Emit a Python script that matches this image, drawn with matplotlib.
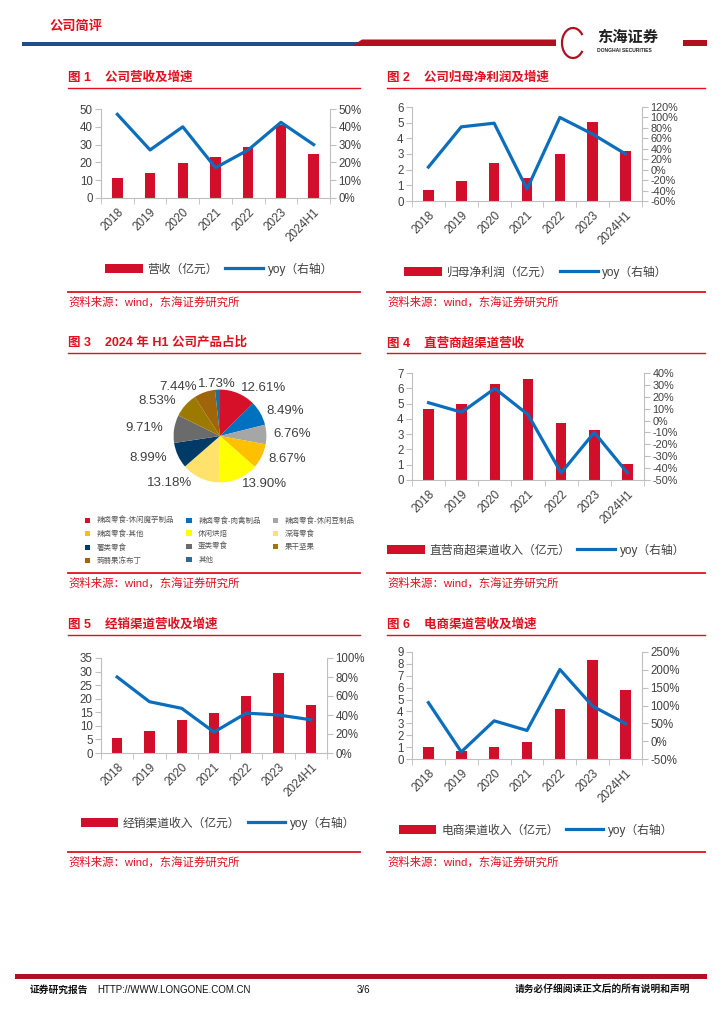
import numpy as np
import matplotlib
matplotlib.use("Agg")
import matplotlib.pyplot as plt
from matplotlib.patches import Polygon, Rectangle, Arc
from matplotlib.ticker import FuncFormatter, MultipleLocator

plt.rcParams['font.family'] = ['Liberation Sans', 'Noto Sans CJK SC', 'DejaVu Sans']
plt.rcParams['axes.unicode_minus'] = False

# ---------------- data ----------------
years = ["2018", "2019", "2020", "2021", "2022", "2023", "2024H1"]

revenue = [11.1, 14.0, 19.6, 22.8, 28.9, 41.2, 24.6]
revenue_yoy = [47, 27, 40, 17, 27, 42.5, 30]

net_profit = [0.7, 1.3, 2.4, 1.5, 3.0, 5.06, 3.16]
net_profit_yoy = [5, 82, 89, -37, 100, 68, 30]

kasupermarket = [4.65, 4.95, 6.3, 6.6, 3.7, 3.3, 1.05]
kasupermarket_yoy = [15, 7, 27, 5, -44, -10, -44]

dealer = [5.4, 8.2, 12.0, 14.7, 21.0, 29.4, 17.6]
dealer_yoy = [80, 54, 47, 22, 42, 40, 35]

ecommerce = [1.0, 0.7, 1.05, 1.4, 4.2, 8.3, 5.8]
ecommerce_yoy = [108, -30, 57, 30, 201, 98, 49]

products = ["辣卤零食-休闲魔芋制品", "辣卤零食-肉禽制品", "辣卤零食-休闲豆制品",
            "辣卤零食-其他", "休闲烘焙", "深海零食", "薯类零食", "蛋类零食",
            "果干坚果", "蒟蒻果冻布丁", "其他"]
product_share = [12.61, 8.49, 6.76, 8.67, 13.90, 13.18, 8.99, 9.71, 8.53, 7.44, 1.73]
product_colors = ["#D7102A", "#0070C0", "#A6A6A6", "#FFC000", "#FFFF00", "#FFE26B",
                  "#003B68", "#6B6B6B", "#9C7A00", "#A0650A", "#1F6E9E"]

RED = "#D20F2A"
TITLE_RED = "#E0101F"
BLUE = "#0A6EBD"
TXT = "#404040"
SPINE = "#BFBFBF"

W, H = 724, 1024
fig = plt.figure(figsize=(W / 100, H / 100), dpi=100)


def px(l, t, r, b):
    return [l / W, 1 - b / H, (r - l) / W, (b - t) / H]


# background layer in pixel coordinates
bg = fig.add_axes([0, 0, 1, 1], zorder=-5)
bg.set_xlim(0, W)
bg.set_ylim(H, 0)
bg.axis("off")

# ---- header ----
bg.text(50, 27, "公司简评", color=TITLE_RED, fontsize=9.5, fontweight="bold", va="center")
bg.add_patch(Rectangle((22, 41.5), 336, 4, color="#1F4E8C", lw=0))
bg.add_patch(Polygon([(352, 46), (362, 39.5), (556, 39.5), (556, 46)], color="#B01020", lw=0))
bg.add_patch(Rectangle((683, 39.5), 24, 6.5, color="#B01020", lw=0))
bg.add_patch(Arc((573, 43), 22, 30, theta1=40, theta2=320, color="#B01020", lw=1.6))
bg.text(597, 38, "东海证券", fontsize=11, fontweight="bold", color="#222222", va="center")
bg.text(597, 51, "DONGHAI SECURITIES", fontsize=3.6, fontweight="bold", color="#222222", va="center")

# ---- footer ----
bg.add_patch(Rectangle((15, 974), 692, 4.5, color="#B01020", lw=0))
bg.text(30, 990, "证券研究报告", fontsize=7, fontweight="bold", color="#111111", va="center")
bg.text(97, 990, "HTTP://WWW.LONGONE.COM.CN", fontsize=7, color="#111111", va="center")
bg.text(357, 990, "3/6", fontsize=7, color="#111111", va="center")
bg.text(690, 990, "请务必仔细阅读正文后的所有说明和声明", fontsize=7, fontweight="bold",
        color="#111111", va="center", ha="right")


def panel_frame(x0, x1, title_y, src_y, title):
    bg.text(x0, title_y, title, color=TITLE_RED, fontsize=9, fontweight="bold", va="center")
    bg.plot([x0, x1], [title_y + 10, title_y + 10], color=TITLE_RED, lw=1)
    bg.plot([x0, x1], [src_y, src_y], color=TITLE_RED, lw=1.3)
    bg.text(x0, src_y + 10, "资料来源：wind，东海证券研究所", color=TITLE_RED, fontsize=8.2, va="center")


def combo(box, bars, yoy, ymax, ystep, y2min, y2max, y2step, bar_label, legend_xy):
    ax = fig.add_axes(px(*box))
    x = np.arange(len(years))
    b = ax.bar(x, bars, width=0.32, color=RED, zorder=2, label=bar_label)
    ax.set_xlim(-0.5, len(years) - 0.5)
    ax.set_ylim(0, ymax)
    ax.yaxis.set_major_locator(MultipleLocator(ystep))
    ax.set_xticks(x)
    ax.set_xticklabels(years, rotation=45, ha="right", rotation_mode="anchor")
    ax.set_xticks(np.arange(-0.5, len(years)), minor=True)
    ax.tick_params(axis="x", which="major", length=0, pad=6, labelsize=8.5, labelcolor=TXT)
    ax.tick_params(axis="x", which="minor", length=4, color=SPINE, direction="out")
    ax.tick_params(axis="y", length=4, color=SPINE, labelsize=8.3, labelcolor=TXT, pad=2)
    ax.spines["top"].set_visible(False)
    ax.spines["right"].set_visible(False)
    for s in ("left", "bottom"):
        ax.spines[s].set_color(SPINE)

    ax2 = ax.twinx()
    ln, = ax2.plot(x, yoy, color=BLUE, lw=2.3, zorder=3, label="yoy（右轴）")
    ax2.set_ylim(y2min, y2max)
    ax2.yaxis.set_major_locator(MultipleLocator(y2step))
    ax2.yaxis.set_major_formatter(FuncFormatter(lambda v, p: f"{v:.0f}%"))
    n_ticks = (y2max - y2min) / y2step + 1
    ax2.tick_params(axis="y", length=4, color=SPINE, labelsize=8.3 if n_ticks < 9 else 7.8,
                    labelcolor=TXT, pad=2)
    ax2.spines["top"].set_visible(False)
    ax2.spines["left"].set_visible(False)
    ax2.spines["bottom"].set_visible(False)
    ax2.spines["right"].set_color(SPINE)

    fig.legend([b, ln], [bar_label, "yoy（右轴）"], loc="center",
               bbox_to_anchor=(legend_xy[0] / W, 1 - legend_xy[1] / H),
               ncol=2, frameon=False, fontsize=8.5, labelcolor=TXT,
               handlelength=3.2, handleheight=0.9, handletextpad=0.4, columnspacing=0.6)
    return ax, ax2


# ---- figure 1 ----
panel_frame(68, 360, 78, 292, "图 1    公司营收及增速")
combo((101, 109, 330, 198), revenue, revenue_yoy, 50, 10, 0, 50, 10,
      "营收（亿元）", (219, 269))

# ---- figure 2 ----
panel_frame(387, 705, 78, 292, "图 2    公司归母净利润及增速")
combo((412, 107, 642, 201), net_profit, net_profit_yoy, 6, 1, -60, 120, 20,
      "归母净利润（亿元）", (536, 272))

# ---- figure 3 (pie) ----
panel_frame(68, 360, 343, 573, "图 3    2024 年 H1 公司产品占比")
axp = fig.add_axes(px(162, 378, 278, 494))
wedges, _ = axp.pie(product_share, colors=product_colors, startangle=90,
                    counterclock=False, wedgeprops=dict(linewidth=0))
axp.set_aspect("equal")
for w, share in zip(wedges, product_share):
    ang = np.deg2rad((w.theta1 + w.theta2) / 2)
    cx, cy = np.cos(ang), np.sin(ang)
    if abs(cx) < 0.1:
        ha, dx = "center", 0
    elif cx > 0:
        ha, dx = "left", 1
    else:
        ha, dx = "right", -4
    axp.annotate(f"{share:.2f}%", (1.12 * cx, 1.12 * cy), xytext=(dx, 0),
                 textcoords="offset points", ha=ha, va="center",
                 fontsize=9.5, color=TXT)
order = [0, 3, 6, 9, 1, 4, 7, 10, 2, 5, 8]
fig.legend([wedges[i] for i in order], [products[i] for i in order], loc="upper left",
           bbox_to_anchor=(78 / W, 1 - 510 / H), ncol=3, frameon=False,
           fontsize=5.4, labelcolor="#555555", handlelength=0.7, handleheight=0.7,
           handletextpad=0.9, columnspacing=1.6, labelspacing=0.75)

# ---- figure 4 ----
panel_frame(387, 705, 343, 573, "图 4    直营商超渠道营收")
combo((412, 373, 644, 480), kasupermarket, kasupermarket_yoy, 7, 1, -50, 40, 10,
      "直营商超渠道收入（亿元）", (536, 550))

# ---- figure 5 ----
panel_frame(68, 360, 625, 852, "图 5    经销渠道营收及增速")
combo((101, 658, 327, 753), dealer, dealer_yoy, 35, 5, 0, 100, 20,
      "经销渠道收入（亿元）", (218, 823))

# ---- figure 6 ----
panel_frame(387, 705, 625, 852, "图 6    电商渠道营收及增速")
combo((412, 652, 642, 759), ecommerce, ecommerce_yoy, 9, 1, -50, 250, 50,
      "电商渠道收入（亿元）", (536, 830))

fig.savefig("out.png", dpi=100, facecolor="white")
